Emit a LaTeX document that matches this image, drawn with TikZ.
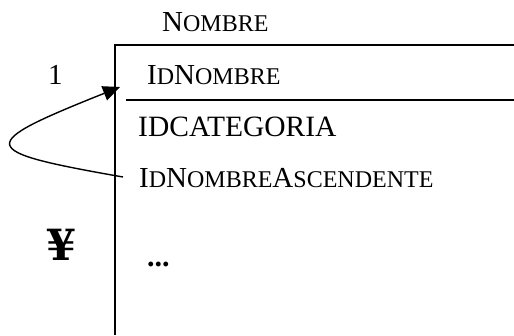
\documentclass[tikz,border=0pt]{standalone}
\usepackage{fontspec}
\setmainfont{Liberation Serif}
\newfontfamily\symfont{DejaVu Serif}
\usetikzlibrary{arrows.meta}
\newcommand\smc[1]{{\fontsize{24}{26}\selectfont #1}}
\tikzset{
  lbl/.style={anchor=base west, inner sep=0pt, font=\fontsize{29}{31}\selectfont},
  boxline/.style={line width=1.4pt},
  relarrow/.style={line width=1.4pt, -{Triangle[length=17pt,width=15pt]}}
}
\begin{document}
\begin{tikzpicture}[x=1pt,y=-1pt]
\useasboundingbox (0,0) rectangle (514,335);
% table frame
\coordinate (tl) at (115,45);
\coordinate (tr) at (514,45);
\coordinate (bl) at (115,335);
\coordinate (sl) at (126,100);
\coordinate (sr) at (514,100);
\draw[boxline] (tr) -- (tl) -- (bl);
\draw[boxline] (sl) -- (sr);
% texts
\node[lbl] (title) at (162,31) {N\smc{OMBRE}};
\node[lbl] (card1) at (48,84) {1};
\node[lbl] (idn) at (147,84) {I\smc{D}N\smc{OMBRE}};
\node[lbl, font=\fontsize{29.5}{31}\selectfont] (idc) at (138,136) {IDCATEGORIA};
\node[lbl] (ida) at (139,187) {I\smc{D}N\smc{OMBRE}A\smc{SCENDENTE}};
\node[lbl, font=\symfont\bfseries\fontsize{43}{45}\selectfont] (many) at (46,260) {¥};
\node[lbl, font=\bfseries\fontsize{30}{32}\selectfont] (dots) at (147,266) {...};
% recursive relation
\coordinate (from) at (123,177);
\coordinate (to) at (120,87);
\draw[relarrow] (from) .. controls (-25,151) and (-25,145) .. (to);
\end{tikzpicture}
\end{document}
